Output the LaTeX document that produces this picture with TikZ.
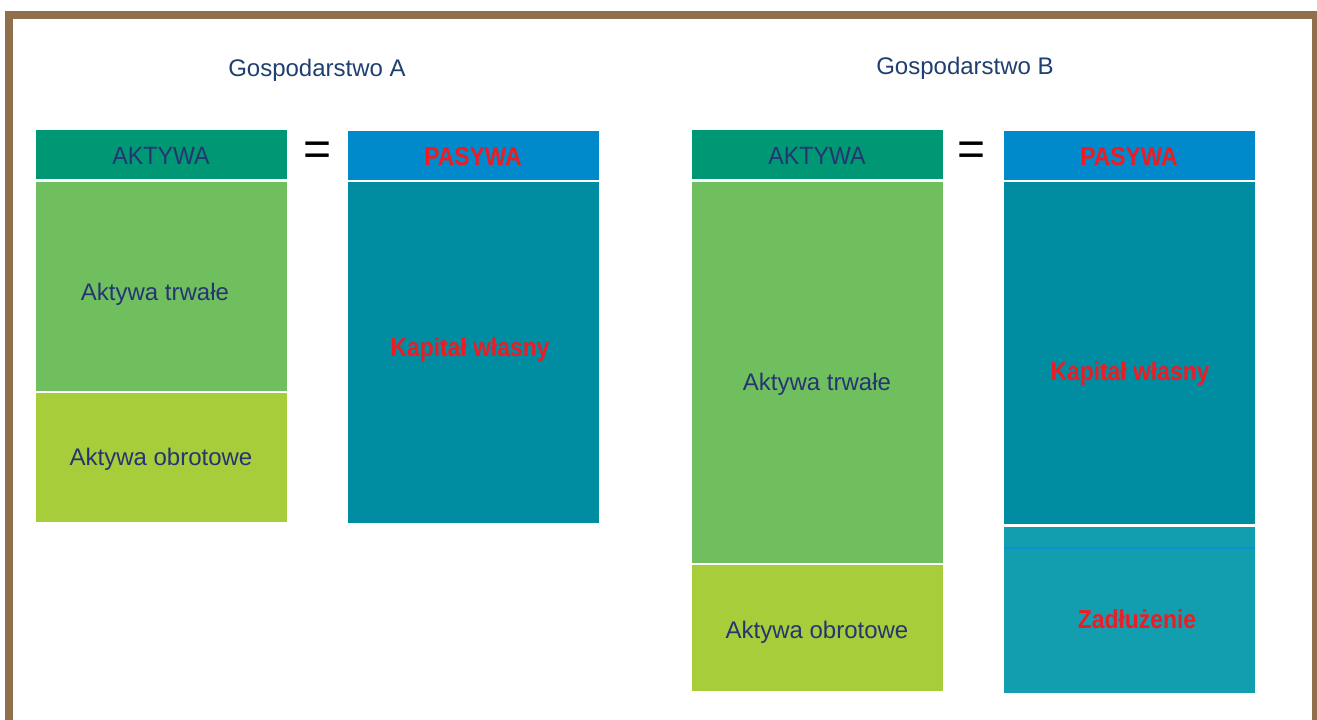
\documentclass[tikz,border=0pt]{standalone}
\usepackage{fontspec}
\setmainfont{Liberation Sans}
\newfontfamily\waski[FakeStretch=0.88]{Liberation Sans}
\newfontfamily\nagl[FakeStretch=0.93]{Liberation Sans}
\usetikzlibrary{calc}

\definecolor{ramka}{HTML}{8F6F4C}
\definecolor{naglowekA}{HTML}{009874}
\definecolor{naglowekP}{HTML}{008ACB}
\definecolor{trwale}{HTML}{70BF5F}
\definecolor{obrotowe}{HTML}{A8CD3A}
\definecolor{kapital}{HTML}{008DA2}
\definecolor{dlug}{HTML}{129EAF}
\definecolor{linia}{HTML}{0A92D0}
\definecolor{granat}{HTML}{263572}
\definecolor{tytul}{HTML}{1F3F6F}
\definecolor{czerwony}{HTML}{ED1C24}

\begin{document}
\begin{tikzpicture}[x=1pt,y=-1pt,
  blok/.style={inner sep=0pt,anchor=north west,minimum width=251pt},
  opis/.style={inner sep=0pt,text=granat,font=\fontsize{24}{28}\selectfont},
  opisH/.style={inner sep=0pt,text=granat,font=\nagl\fontsize{25}{29}\selectfont},
  opisP/.style={inner sep=0pt,text=czerwony,font=\waski\fontsize{26}{30}\selectfont\bfseries},
  tytulG/.style={inner sep=0pt,text=tytul,font=\fontsize{24}{28}\selectfont},
  rowne/.style={inner sep=0pt,font=\fontsize{48}{52}\selectfont}]

\useasboundingbox (0,0) rectangle (1317,720);

% ramka
\draw[ramka,line width=8pt] (9,720) -- (9,15) -- (1316,15) -- (1316,720);

% Gospodarstwo A
\node[tytulG] (tytA) at (317,70) {Gospodarstwo A};
\node[blok,fill=naglowekA,minimum height=49pt] (akA) at (36,130) {};
\node[blok,fill=trwale,minimum height=209pt] (trA) at (36,182) {};
\node[blok,fill=obrotowe,minimum height=129pt] (obA) at (36,393) {};
\node[blok,fill=naglowekP,minimum height=49pt] (paA) at (348,131) {};
\node[blok,fill=kapital,minimum height=341pt] (kaA) at (348,182) {};

\node[opisH] (akAt) at (161,156) {AKTYWA};
\node[opisP] (paAt) at (473,157) {PASYWA};
\node[opis] (trAt) at (155,294) {Aktywa trwałe};
\node[opis] (obAt) at (161,459) {Aktywa obrotowe};
\node[opisP] (kaAt) at (470,350) {Kapitał własny};
\node[rowne] (rA) at (318,154) {=};

% Gospodarstwo B
\node[tytulG] (tytB) at (965,68) {Gospodarstwo B};
\node[blok,fill=naglowekA,minimum height=49pt] (akB) at (692,130) {};
\node[blok,fill=trwale,minimum height=381pt] (trB) at (692,182) {};
\node[blok,fill=obrotowe,minimum height=126pt] (obB) at (692,565) {};
\node[blok,fill=naglowekP,minimum height=49pt] (paB) at (1004,131) {};
\node[blok,fill=kapital,minimum height=342pt] (kaB) at (1004,182) {};
\node[blok,fill=dlug,minimum height=166pt] (zaB) at (1004,527) {};
\draw[linia,line width=1.2pt] ($(zaB.north west)+(0,21)$) -- ($(zaB.north east)+(0,21)$);

\node[opisH] (akBt) at (817,156) {AKTYWA};
\node[opisP] (paBt) at (1129,157) {PASYWA};
\node[opis] (trBt) at (817,384) {Aktywa trwałe};
\node[opis] (obBt) at (817,632) {Aktywa obrotowe};
\node[opisP] (kaBt) at (1130,374) {Kapitał własny};
\node[opisP] (zaBt) at (1137,619) {Zadłużenie};
\node[rowne] (rB) at (972,154) {=};

\end{tikzpicture}
\end{document}
